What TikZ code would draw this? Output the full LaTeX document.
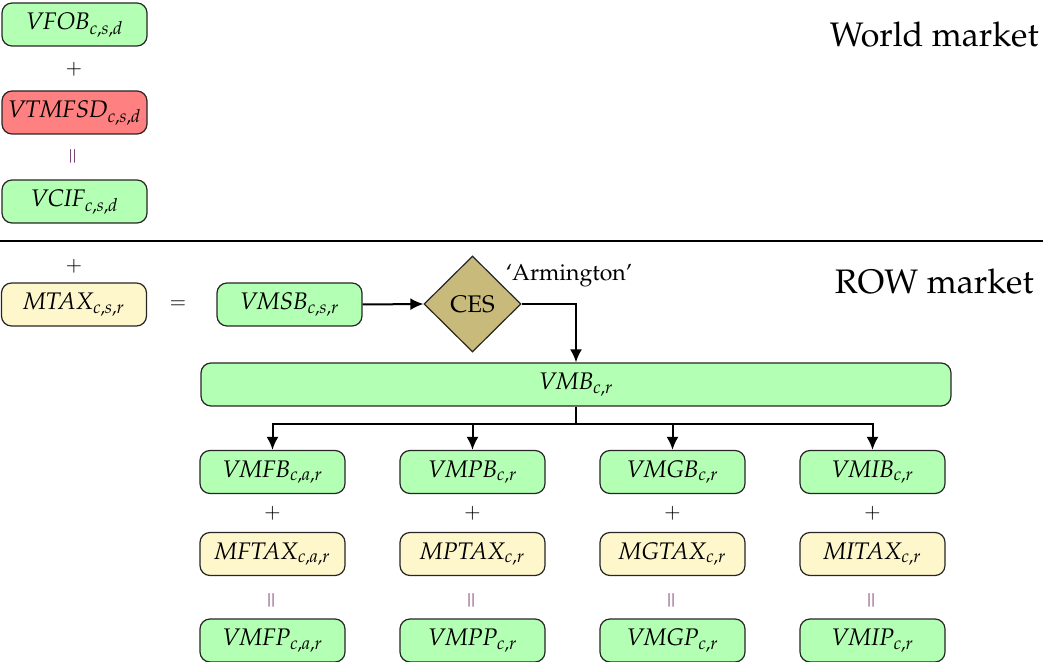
\documentclass[tikz,border=0pt]{standalone}
\usepackage[T1]{fontenc}
\usepackage{mathpazo}
\usetikzlibrary{shapes.geometric,arrows.meta}
\definecolor{boxgreen}{RGB}{179,255,179}
\definecolor{boxred}{RGB}{255,128,128}
\definecolor{boxyellow}{RGB}{255,247,204}
\definecolor{cesfill}{RGB}{200,186,122}
\definecolor{eqcol}{RGB}{100,30,85}
\newcommand{\vv}[2]{$\mathit{#1}_{\mathit{#2}}$}
\begin{document}
\begin{tikzpicture}[x=0.5pt,y=-0.5pt,
  vbox/.style={draw=black!85, rounded corners=5pt, minimum width=72.5pt, minimum height=21.5pt, inner sep=0pt, font=\fontsize{12}{14}\selectfont, line width=0.6pt},
  gbox/.style={vbox, fill=boxgreen},
  rbox/.style={vbox, fill=boxred},
  ybox/.style={vbox, fill=boxyellow},
  op/.style={inner sep=0pt, font=\normalsize},
  eqv/.style={inner sep=0pt, font=\normalsize, rotate=90, text=eqcol},
  seclabel/.style={anchor=east, inner sep=0pt, font=\fontsize{17}{20}\selectfont},
  conn/.style={line width=1pt, -{Latex[length=6.5pt,width=6pt]}},
  plain/.style={line width=1pt}]
\useasboundingbox (0,0) rectangle (1043,662);

% World market
\node[gbox] (vfob) at (74.5,24.5) {\vv{VFOB}{c,s,d}};
\node[op] (p1) at (74,69) {$+$};
\node[rbox] (vtmfsd) at (74.5,112.5) {\vv{VTMFSD}{c,s,d}};
\node[eqv] (e1) at (74,156) {$=$};
\node[gbox] (vcif) at (74.5,201.5) {\vv{VCIF}{c,s,d}};
\node[seclabel] (world) at (1039,35) {World market};

\draw[plain] (0,241) coordinate (l0) -- (1043,241) coordinate (l1);

% ROW market
\node[seclabel] (row) at (1034,282) {ROW market};
\node[op] (p2) at (74,266) {$+$};
\node[ybox] (mtax) at (74,304.5) {\vv{MTAX}{c,s,r}};
\node[op] (e2) at (178,305) {$=$};
\node[gbox] (vmsb) at (289.5,304.5) {\vv{VMSB}{c,s,r}};
\node[diamond, draw=black!85, fill=cesfill, minimum width=48.5pt, minimum height=48pt, inner sep=0pt, line width=0.6pt, font=\fontsize{12}{14}\selectfont] (ces) at (472.5,304) {CES};
\node[inner sep=0pt, font=\fontsize{11.5}{13}\selectfont] (arm) at (569,276) {`Armington'};
\node[gbox, minimum width=375pt] (vmb) at (576,384.5) {\vv{VMB}{c,r}};

\draw[conn] (vmsb.east) -- (ces.west);
\draw[conn] (ces.east) -| (vmb.north);

\coordinate (bus) at (576,424);
\draw[plain] (vmb.south) -- (bus);

% columns
\foreach \n/\x/\b/\bs/\t/\ts/\p/\ps in {1/272.5/VMFB/{c,a,r}/MFTAX/{c,a,r}/VMFP/{c,a,r},
                           2/472.5/VMPB/{c,r}/MPTAX/{c,r}/VMPP/{c,r},
                           3/672.5/VMGB/{c,r}/MGTAX/{c,r}/VMGP/{c,r},
                           4/872.5/VMIB/{c,r}/MITAX/{c,r}/VMIP/{c,r}}{
  \node[gbox] (b\n) at (\x,472) {\vv{\b}{\bs}};
  \node[op] (bp\n) at (\x,513) {$+$};
  \node[ybox] (t\n) at (\x,554) {\vv{\t}{\ts}};
  \node[eqv] (be\n) at (\x,600) {$=$};
  \node[gbox] (pp\n) at (\x,640.5) {\vv{\p}{\ps}};
  \draw[conn] (bus) -| (b\n.north);
}
\end{tikzpicture}
\end{document}
